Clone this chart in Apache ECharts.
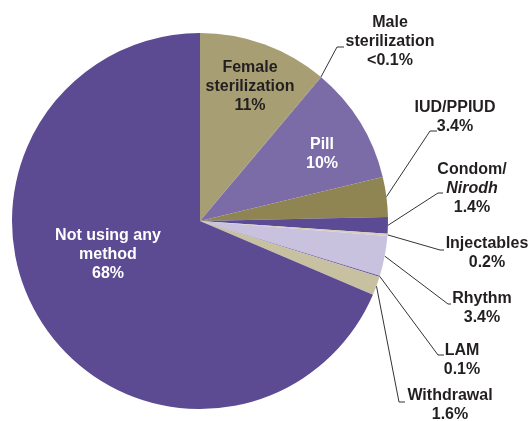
<!DOCTYPE html>
<html>
<head>
<meta charset="utf-8">
<script src="https://cdn.jsdelivr.net/npm/echarts@6/dist/echarts.min.js"></script>
<style>
  html, body { margin: 0; padding: 0; background: #fff; }
  #chart { width: 532px; height: 421px; }
</style>
</head>
<body>
<div id="chart"></div>
<script>
// slices, clockwise from 12 o'clock
const methods = ['Female\nsterilization', 'Male\nsterilization', 'Pill', 'IUD/PPIUD', 'Condom/\n{i|Nirodh}',
  'Injectables', 'Rhythm', 'LAM', 'Withdrawal', 'Not using any\nmethod']
const shares = [11, 0.05, 10, 3.4, 1.4, 0.2, 3.4, 0.1, 1.6, 68]
const shareLabels = ['11%', '<0.1%', '10%', '3.4%', '1.4%', '0.2%', '3.4%', '0.1%', '1.6%', '68%']
const colors = ['#a89e74', '#8b7f4a', '#7b6ba7', '#8f8552', '#5b4a94',
  '#d6cfb4', '#c9c2de', '#6f5fa0', '#c7c1a1', '#5c4b92']
const textColors = ['#231f20', '#231f20', '#fff', '#231f20', '#231f20',
  '#231f20', '#231f20', '#231f20', '#231f20', '#fff']

// where each label sits, and where its leader line bends (null = label inside the slice)
const labelPos = [
  { x: 250, y: 87, elbow: null },
  { x: 390, y: 42, elbow: [337, 47], end: 344 },
  { x: 322, y: 154, elbow: null },
  { x: 455, y: 117, elbow: [430, 131], end: 437 },
  { x: 472, y: 189, elbow: [438, 193], end: 443 },
  { x: 487, y: 253, elbow: [440, 250], end: 444 },
  { x: 482, y: 308, elbow: [448, 304], end: 451 },
  { x: 462, y: 360, elbow: [438, 355], end: 444 },
  { x: 450, y: 405, elbow: [399, 402], end: 405 },
  { x: 108, y: 255, elbow: null }
]

const font = '"Liberation Sans", Arial, sans-serif'

const myChart = echarts.init(document.getElementById('chart'))

const data = shares.map((v, i) => ({
  name: methods[i],
  value: v,
  itemStyle: { color: colors[i] },
  label: { color: textColors[i] },
  labelLine: { show: !!labelPos[i].elbow }
}))

myChart.setOption({
  animation: false,
  series: [
    {
      type: 'pie',
      center: [200, 221],
      radius: 188,
      startAngle: 90,
      clockwise: true,
      avoidLabelOverlap: false,
      emphasis: { disabled: true },
      data: data,
      itemStyle: { borderWidth: 0 },
      label: {
        show: true,
        position: 'outside',
        formatter: (p) => methods[p.dataIndex] + '\n' + shareLabels[p.dataIndex],
        fontFamily: font,
        fontSize: 16,
        fontWeight: 'bold',
        lineHeight: 19,
        rich: {
          i: { fontFamily: font, fontSize: 16, fontWeight: 'bold', fontStyle: 'italic', lineHeight: 19, color: '#231f20' }
        }
      },
      labelLine: {
        length: 10,
        length2: 5,
        lineStyle: { color: '#333', width: 1 }
      },
      labelLayout: function (params) {
        const pos = labelPos[params.dataIndex]
        const out = { x: pos.x, y: pos.y, align: 'center', verticalAlign: 'middle' }
        if (pos.elbow && params.labelLinePoints) {
          const start = params.labelLinePoints[0]
          out.labelLinePoints = [start, pos.elbow, [pos.end, pos.elbow[1]]]
        }
        return out
      }
    }
  ]
})
</script>
</body>
</html>
